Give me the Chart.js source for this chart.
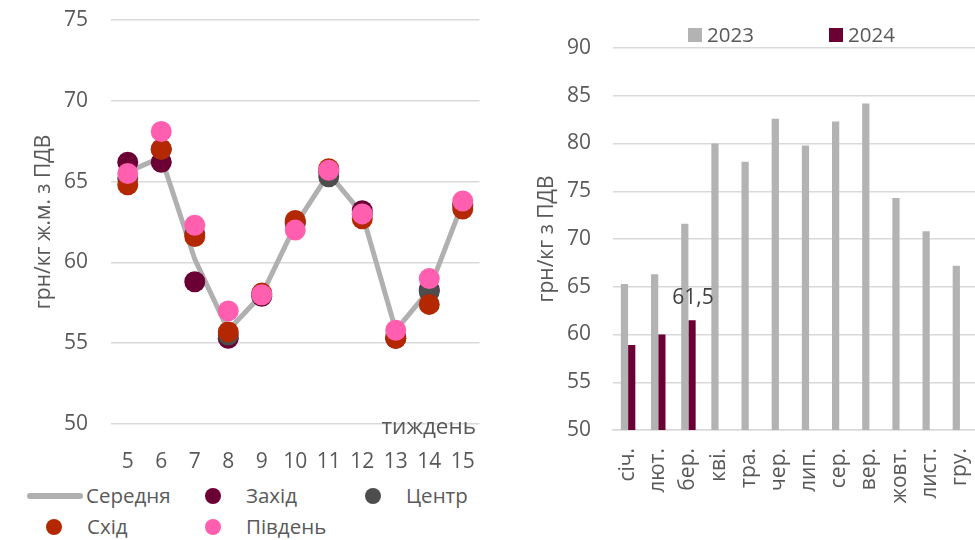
<!DOCTYPE html>
<html>
<head>
<meta charset="utf-8">
<script src="https://cdn.jsdelivr.net/npm/chart.js@4.4.1/dist/chart.umd.min.js"></script>
<style>
  body { margin: 0; background: #fff; font-family: "Open Sans", sans-serif; color: #595959; }
  #wrap { position: relative; width: 975px; height: 540px; overflow: hidden; }
  #weekChart { position: absolute; left: 0; top: 0; }
  #monthChart { position: absolute; left: 490px; top: 0; }
  .lg { position: absolute; font-size: 20.5px; line-height: 24px; white-space: nowrap; }
  .dot { position: absolute; border-radius: 50%; }
  .sq { position: absolute; width: 14px; height: 14px; }
  #weekTitle { position: absolute; right: 499px; top: 410px; font-size: 22.5px; }
</style>
</head>
<body>
<div id="wrap">
  <canvas id="weekChart" width="490" height="470"></canvas>
  <canvas id="monthChart" width="485" height="540"></canvas>
  <div id="weekTitle">тиждень</div>
  <div id="weekLegend"></div>
  <div id="monthLegend"></div>
</div>
<script>
// left chart: weekly prices by region
const weeks = ["5", "6", "7", "8", "9", "10", "11", "12", "13", "14", "15"];
const avgPrice   = [65.6, 66.5, 60.2, 55.8, 58.0, 62.3, 65.5, 63.0, 55.8, 58.3, 63.7];
const westPrice  = [66.2, 66.2, 58.8, 55.3, 57.9, 62.5, 65.6, 63.2, 55.3, 58.3, 63.6];
const centrePrice = [65.2, 67.0, 61.8, 55.5, 58.0, 62.4, 65.3, 63.0, 55.4, 58.2, 63.5];
const eastPrice  = [64.8, 67.0, 61.6, 55.7, 58.1, 62.6, 65.8, 62.7, 55.3, 57.4, 63.3];
const southPrice = [65.5, 68.1, 62.3, 57.0, 58.0, 62.0, 65.7, 63.0, 55.8, 59.0, 63.8];
const weekTicks = [50, 55, 60, 65, 70, 75];

// right chart: monthly prices 2023 vs 2024
const months = ["січ.", "лют.", "бер.", "кві.", "тра.", "чер.", "лип.", "сер.", "вер.", "жовт.", "лист.", "гру."];
const price2023 = [65.3, 66.3, 71.6, 80.0, 78.1, 82.6, 79.8, 82.3, 84.2, 74.3, 70.8, 67.2];
const price2024 = [58.9, 60.0, 61.5, null, null, null, null, null, null, null, null, null];
const monthTicks = [50, 55, 60, 65, 70, 75, 80, 85, 90];

const GRID = "#d9d9d9";
const TEXT = "#595959";
const FONT = "'Open Sans', sans-serif";
const FS = 21;

const regions = [
  { label: "Захід", data: westPrice, color: "#6b0035" },
  { label: "Центр", data: centrePrice, color: "#4d4d4d" },
  { label: "Схід", data: eastPrice, color: "#b32800" },
  { label: "Південь", data: southPrice, color: "#ff5fae" }
];

const weekDatasets = [{
  label: "Середня",
  data: avgPrice,
  borderColor: "#b0b0b0",
  borderWidth: 5,
  pointRadius: 0,
  fill: false,
  order: 10
}];
regions.forEach((r, i) => {
  weekDatasets.push({
    label: r.label,
    data: r.data,
    showLine: false,
    pointRadius: 10.5,
    pointBackgroundColor: r.color,
    pointBorderWidth: 0,
    order: 9 - i
  });
});

function noPad(s) {
  s.paddingTop = 0; s.paddingBottom = 0; s.paddingLeft = 0; s.paddingRight = 0;
}

new Chart(document.getElementById("weekChart"), {
  type: "line",
  data: { labels: weeks, datasets: weekDatasets },
  options: {
    responsive: false,
    animation: false,
    events: [],
    layout: { padding: { left: 31, top: 20, right: 10, bottom: 0 } },
    plugins: { legend: { display: false }, tooltip: { enabled: false } },
    scales: {
      x: {
        offset: true,
        grid: { display: false },
        border: { display: false },
        ticks: { color: TEXT, font: { family: FONT, size: FS }, padding: 17 },
        afterFit(s) { s.height = 46; noPad(s); }
      },
      y: {
        min: 50,
        max: 75,
        afterBuildTicks(s) { s.ticks = weekTicks.map(v => ({ value: v })); },
        grid: { color: GRID, lineWidth: 1.5, drawTicks: false },
        border: { display: false },
        ticks: { color: TEXT, font: { family: FONT, size: FS }, padding: 23 },
        title: { display: true, text: "грн/кг ж.м. з ПДВ", color: TEXT, font: { family: FONT, size: FS }, padding: 0 },
        afterFit(s) { s.width = 80; noPad(s); }
      }
    }
  }
});

// label for the last 2024 value
const lastValueLabel = {
  id: "lastValueLabel",
  afterDatasetsDraw(chart) {
    const meta = chart.getDatasetMeta(1);
    let idx = -1;
    price2024.forEach((v, i) => { if (v !== null) idx = i; });
    if (idx < 0) return;
    const bar = meta.data[idx];
    const ctx = chart.ctx;
    ctx.save();
    ctx.fillStyle = "#404040";
    ctx.font = "21px " + FONT;
    ctx.textAlign = "center";
    ctx.textBaseline = "bottom";
    ctx.fillText(String(price2024[idx]).replace(".", ","), bar.x + 1, bar.y - 12);
    ctx.restore();
  }
};

new Chart(document.getElementById("monthChart"), {
  type: "bar",
  data: {
    labels: months,
    datasets: [
      { label: "2023", data: price2023, backgroundColor: "#b3b3b3" },
      { label: "2024", data: price2024, backgroundColor: "#6b0035" }
    ]
  },
  options: {
    responsive: false,
    animation: false,
    events: [],
    layout: { padding: { left: 44, top: 48, right: 0, bottom: 0 } },
    datasets: { bar: { categoryPercentage: 0.48, barPercentage: 1.0 } },
    plugins: { legend: { display: false }, tooltip: { enabled: false } },
    scales: {
      x: {
        grid: { display: false },
        border: { color: GRID, width: 1.5 },
        ticks: { color: TEXT, font: { family: FONT, size: FS }, minRotation: 90, maxRotation: 90, padding: 10 },
        afterFit(s) { s.height = 110; noPad(s); }
      },
      y: {
        min: 50,
        max: 90,
        afterBuildTicks(s) { s.ticks = monthTicks.map(v => ({ value: v })); },
        grid: { color: GRID, lineWidth: 1.5, drawTicks: false },
        border: { display: false },
        ticks: { color: TEXT, font: { family: FONT, size: FS }, padding: 22 },
        title: { display: true, text: "грн/кг з ПДВ", color: TEXT, font: { family: FONT, size: FS }, padding: 0 },
        afterFit(s) { s.width = 79; noPad(s); }
      }
    }
  },
  plugins: [lastValueLabel]
});

// legends
function addItem(parent, html) {
  const el = document.createElement("div");
  el.innerHTML = html;
  parent.appendChild(el.firstChild);
}
const wl = document.getElementById("weekLegend");
addItem(wl, '<div style="position:absolute;left:27px;top:493px;width:56px;height:6px;border-radius:3px;background:#b0b0b0"></div>');
addItem(wl, '<div class="lg" style="left:86px;top:483px">' + weekDatasets[0].label + '</div>');
const regionSlots = [[213, 496], [373, 496], [54, 527], [213, 527]];
regions.forEach((r, i) => {
  const [x, y] = regionSlots[i];
  addItem(wl, '<div class="dot" style="left:' + (x - 8) + 'px;top:' + (y - 8) + 'px;width:16px;height:16px;background:' + r.color + '"></div>');
  addItem(wl, '<div class="lg" style="left:' + (x + 33) + 'px;top:' + (y - 13) + 'px">' + r.label + '</div>');
});
const ml = document.getElementById("monthLegend");
[["2023", "#b3b3b3", 688], ["2024", "#6b0035", 829]].forEach(([t, c, x]) => {
  addItem(ml, '<div class="sq" style="left:' + x + 'px;top:28px;background:' + c + '"></div>');
  addItem(ml, '<div class="lg" style="left:' + (x + 19) + 'px;top:22px">' + t + '</div>');
});
</script>
</body>
</html>
